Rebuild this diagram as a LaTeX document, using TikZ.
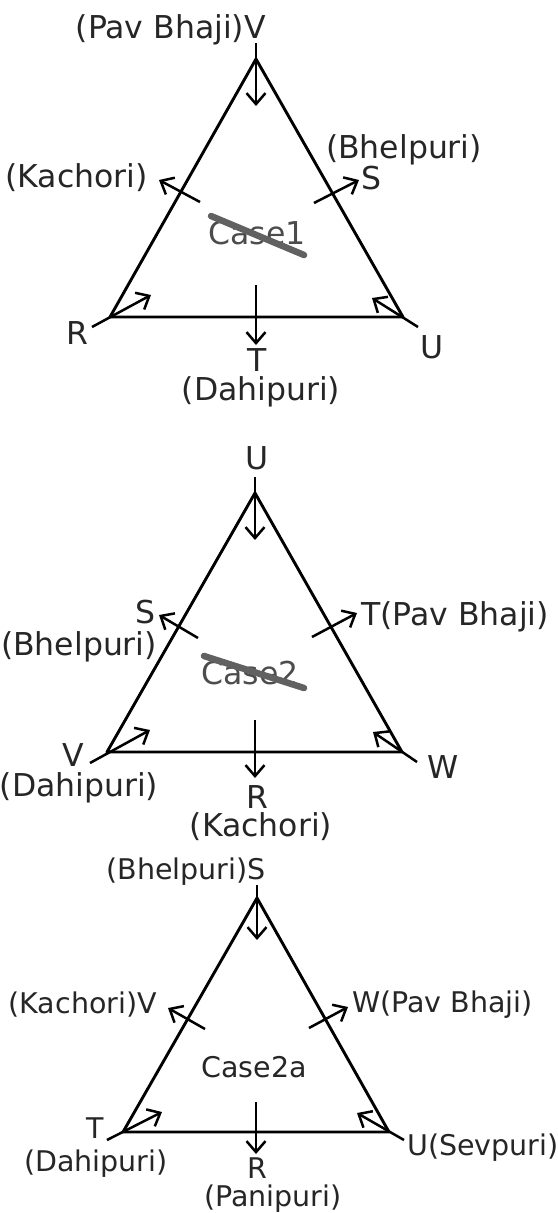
\documentclass[tikz,border=0pt]{standalone}
\usepackage{fontspec}
\setmainfont{DejaVu Sans}
\usetikzlibrary{arrows.meta}
\begin{document}
\begin{tikzpicture}[x=1pt,y=-1pt,
  edge/.style={line width=2.9pt,line join=round},
  arr/.style={line width=2.5pt,-{Straight Barb[length=11pt,width=19pt]}},
  lbl/.style={inner sep=0pt,text=black!85,font=\fontsize{31.5}{33}\selectfont},
  lbls/.style={inner sep=0pt,text=black!85,font=\fontsize{28.5}{30}\selectfont},
  casetxt/.style={inner sep=0pt,text=black!70,font=\fontsize{31.5}{33}\selectfont},
  strike/.style={line width=6.5pt,black!62,line cap=round}]
\useasboundingbox[fill=white] (0,0) rectangle (557,1213);

% ---------------- Triangle 1 ----------------
\coordinate (A1) at (256,59);
\coordinate (L1) at (110,317);
\coordinate (R1) at (403,317);
\draw[edge] (A1) -- (L1) -- (R1) -- cycle;
\coordinate (a1s) at (256,43);  \coordinate (a1e) at (256,106);
\coordinate (l1s) at (92,327);  \coordinate (l1e) at (151,295);
\coordinate (r1s) at (418,327); \coordinate (r1e) at (372,298);
\coordinate (ls1s) at (200,202); \coordinate (ls1e) at (159,180);
\coordinate (rs1s) at (314,203); \coordinate (rs1e) at (359,180);
\coordinate (b1s) at (256,285); \coordinate (b1e) at (256,345);
\draw[arr] (a1s) -- (a1e);
\draw[arr] (l1s) -- (l1e);
\draw[arr] (r1s) -- (r1e);
\draw[arr] (ls1s) -- (ls1e);
\draw[arr] (rs1s) -- (rs1e);
\draw[arr] (b1s) -- (b1e);
\node[lbl,anchor=east] (t1V) at (266,30) {(Pav Bhaji)V};
\node[lbl,anchor=east] (t1K) at (148,178) {(Kachori)};
\node[lbl] (t1S) at (371,178) {S};
\node[lbl] (t1B) at (404,150) {(Bhelpuri)};
\node[casetxt] (c1) at (257,233) {Case1};
\coordinate (c1a) at (211,216); \coordinate (c1b) at (304,255);
\draw[strike] (c1a) -- (c1b);
\node[lbl] (t1R) at (77,333) {R};
\node[lbl] (t1U) at (432,347) {U};
\node[lbl] (t1T) at (257,360) {T};
\node[lbl] (t1D) at (261,392) {(Dahipuri)};

% ---------------- Triangle 2 ----------------
\coordinate (A2) at (255,493);
\coordinate (L2) at (107,752);
\coordinate (R2) at (402,752);
\draw[edge] (A2) -- (L2) -- (R2) -- cycle;
\coordinate (a2s) at (255,477);  \coordinate (a2e) at (255,540);
\coordinate (l2s) at (90,763);   \coordinate (l2e) at (150,730);
\coordinate (r2s) at (417,762);  \coordinate (r2e) at (373,732);
\coordinate (ls2s) at (198,638); \coordinate (ls2e) at (159,615);
\coordinate (rs2s) at (312,637); \coordinate (rs2e) at (357,613);
\coordinate (b2s) at (255,720);  \coordinate (b2e) at (255,778);
\draw[arr] (a2s) -- (a2e);
\draw[arr] (l2s) -- (l2e);
\draw[arr] (r2s) -- (r2e);
\draw[arr] (ls2s) -- (ls2e);
\draw[arr] (rs2s) -- (rs2e);
\draw[arr] (b2s) -- (b2e);
\node[lbl] (t2U) at (257,458) {U};
\node[lbl] (t2S) at (145,612) {S};
\node[lbl] (t2B) at (79,647) {(Bhelpuri)};
\node[lbl,anchor=west] (t2T) at (361,617) {T(Pav Bhaji)};
\node[casetxt] (c2) at (250,673) {Case2};
\coordinate (c2a) at (204,656); \coordinate (c2b) at (304,688);
\draw[strike] (c2a) -- (c2b);
\node[lbl] (t2V) at (73,755) {V};
\node[lbl] (t2D) at (79,788) {(Dahipuri)};
\node[lbl] (t2W) at (443,767) {W};
\node[lbl] (t2R) at (257,797) {R};
\node[lbl] (t2K) at (261,827) {(Kachori)};

% ---------------- Triangle 3 ----------------
\coordinate (A3) at (257,898);
\coordinate (L3) at (123,1132);
\coordinate (R3) at (389,1132);
\draw[edge] (A3) -- (L3) -- (R3) -- cycle;
\coordinate (a3s) at (257,885);   \coordinate (a3e) at (257,940);
\coordinate (l3s) at (107,1140);  \coordinate (l3e) at (162,1112);
\coordinate (r3s) at (404,1140);  \coordinate (r3e) at (357,1113);
\coordinate (ls3s) at (205,1029); \coordinate (ls3e) at (168,1008);
\coordinate (rs3s) at (309,1028); \coordinate (rs3e) at (348,1007);
\coordinate (b3s) at (256,1102);  \coordinate (b3e) at (256,1154);
\draw[arr] (a3s) -- (a3e);
\draw[arr] (l3s) -- (l3e);
\draw[arr] (r3s) -- (r3e);
\draw[arr] (ls3s) -- (ls3e);
\draw[arr] (rs3s) -- (rs3e);
\draw[arr] (b3s) -- (b3e);
\node[lbls,anchor=east] (t3S) at (266,872) {(Bhelpuri)S};
\node[lbls,anchor=east] (t3V) at (157,1005) {(Kachori)V};
\node[lbls,anchor=west] (t3W) at (352,1005) {W(Pav Bhaji)};
\node[lbls] (c3) at (254,1067) {Case2a};
\node[lbls] (t3T) at (95,1128) {T};
\node[lbls] (t3D) at (96,1164) {(Dahipuri)};
\node[lbls] (t3R) at (257,1168) {R};
\node[lbls] (t3P) at (273,1199) {(Panipuri)};
\node[lbls,anchor=west] (t3U) at (407,1148) {U(Sevpuri)};
\end{tikzpicture}
\end{document}
